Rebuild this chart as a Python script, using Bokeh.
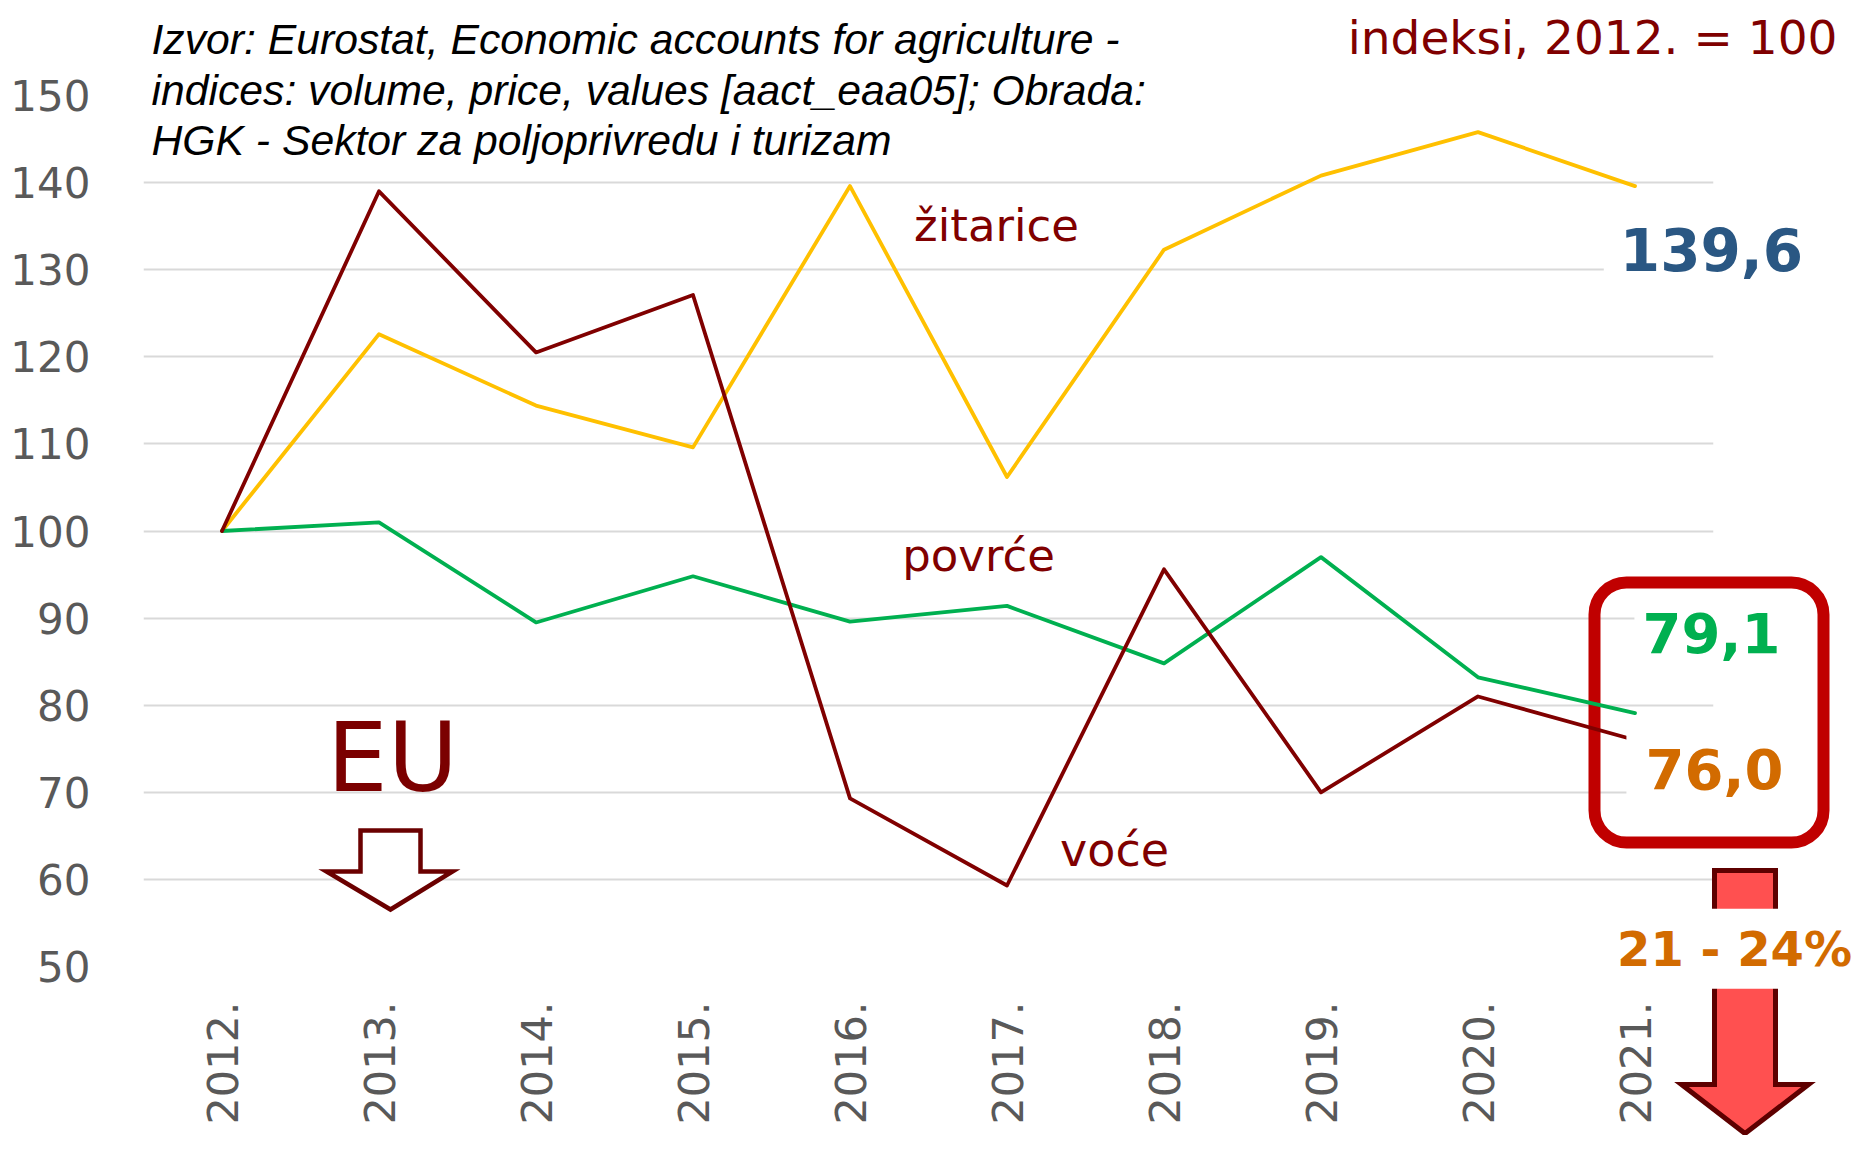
import math
from bokeh.plotting import figure
from bokeh.models import FactorRange, Range1d, FixedTicker
from bokeh.core.properties import value
from bokeh.embed import file_html
from bokeh.resources import INLINE

# ---- data ----
years = ["2012.", "2013.", "2014.", "2015.", "2016.", "2017.", "2018.", "2019.", "2020.", "2021."]
zitarice = [100, 122.6, 114.4, 109.6, 139.6, 106.2, 132.3, 140.8, 145.8, 139.6]
povrce = [100, 101.0, 89.5, 94.8, 89.6, 91.4, 84.8, 97.0, 83.2, 79.1]
voce = [100, 139.0, 120.5, 127.1, 69.3, 59.3, 95.6, 70.0, 81.0, 76.0]
y_ticks = [50, 60, 70, 80, 90, 100, 110, 120, 130, 140, 150]

DARKRED = "#800000"
TICK = "#595959"

W, H = 1854, 1135
FL, FR, FT, FB = 143, 1713, 95, 966          # frame edges in canvas px
YMIN, YMAX = 50, 150
CW = (FR - FL) / len(years)
PPU = (FB - FT) / (YMAX - YMIN)


def X(px):  # canvas px -> synthetic categorical coordinate
    return (px - FL) / CW


def Y(py):  # canvas px -> data y
    return YMAX - (py - FT) / PPU


p = figure(width=W, height=H, x_range=FactorRange(factors=years), y_range=Range1d(YMIN, YMAX),
           output_backend="svg", toolbar_location=None, title=None,
           min_border_left=FL, min_border_right=W - FR, min_border_top=FT, min_border_bottom=H - FB)
p.outline_line_color = None
p.background_fill_color = "white"
p.border_fill_color = "white"

for ax in (p.xaxis[0], p.yaxis[0]):
    ax.axis_line_color = None
    ax.major_tick_line_color = None
    ax.minor_tick_line_color = None
    ax.major_tick_out = 0
    ax.major_tick_in = 0
    ax.major_label_text_font = "DejaVu Sans"
    ax.major_label_text_color = TICK
p.xaxis.major_label_text_font_size = "43px"
p.yaxis.major_label_text_font_size = "42px"
p.xaxis.major_label_orientation = math.pi / 2
p.xaxis.major_label_standoff = 35
p.yaxis.major_label_standoff = 53
p.yaxis.ticker = FixedTicker(ticks=y_ticks)
p.xgrid.grid_line_color = None
p.ygrid.grid_line_color = "#D9D9D9"
p.ygrid.grid_line_width = 2

# red rounded box (drawn before the lines so they cross it)
p.quad(left=[X(1594)], right=[X(1823)], top=[Y(582)], bottom=[Y(842)],
       fill_color=None, line_color="#C00000", line_width=12, border_radius=32, level="annotation")

line_kw = dict(line_width=3.8, line_cap="round", line_join="round", level="annotation")
p.line(years, zitarice, color="#FFC000", **line_kw)
p.line(years, povrce, color="#00B050", **line_kw)
p.line(years, voce, color=DARKRED, **line_kw)

# EU hollow arrow
eu_x = [360, 420, 420, 452, 390, 326, 360]
eu_y = [830, 830, 871, 871, 909, 871, 871]
p.patch([X(v) for v in eu_x], [Y(v) for v in eu_y], fill_color="white", line_color="#6B0000",
        line_width=4.5, line_join="miter", level="overlay")

# red down arrow
ra_x = [1714, 1775, 1775, 1808, 1744.5, 1681, 1714]
ra_y = [870, 870, 1084, 1084, 1133, 1084, 1084]
p.patch([X(v) for v in ra_x], [Y(v) for v in ra_y], fill_color="#FF5050", line_color="#5E0000",
        line_width=5, line_join="miter", level="overlay")

BASE_FIX = 0.39  # baseline correction (fraction of font size)


def lab(px, py, text, size, color, font="DejaVu Sans", style="normal", align="center", bg=None, pad=0):
    kw = {}
    if bg is not None:
        kw = dict(background_fill_color=bg, padding=pad)
    p.text(x=[X(px)], y=[Y(py - BASE_FIX * size)], text=[text], text_font=value(font),
           text_font_size=value(f"{size}px"),
           text_color=color, text_font_style=style, text_align=align, text_baseline="alphabetic",
           level="overlay", **kw)


src = ["Izvor: Eurostat, Economic accounts for agriculture -",
       "indices: volume, price, values [aact_eaa05]; Obrada:",
       "HGK - Sektor za poljoprivredu i turizam"]
for i, t in enumerate(src):
    lab(151, 55.5 + 50.5 * i, t, 42.7, "black", font="Liberation Sans", style="italic", align="left")

lab(1837, 55, "indeksi, 2012. = 100", 47, DARKRED, align="right")
lab(996, 243, "žitarice", 45, DARKRED)
lab(978, 573, "povrće", 45, DARKRED)
lab(1114, 867, "voće", 46, DARKRED)
lab(392, 795, "EU", 96, "#7B0000")

lab(1711, 272, "139,6", 58, "#2A5783", style="bold", bg="white", pad=16)
lab(1711, 654, "79,1", 56, "#00B050", style="bold", bg="white", pad=8)
lab(1714, 790, "76,0", 56, "#D26B00", style="bold", bg="white", pad=19)
lab(1734, 967, "21 - 24%", 48, "#D26B00", style="bold", bg="white", pad=12)

open("out.html", "w").write(file_html(p, INLINE))
